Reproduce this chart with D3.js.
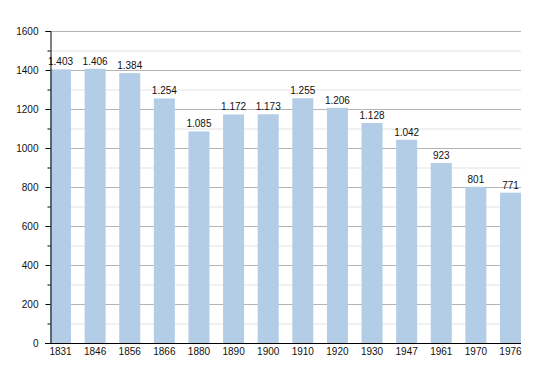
<!DOCTYPE html>
<html lang="en">
  <head>
    <meta charset="UTF-8" />
    <title>Population</title>
    <script src="https://d3js.org/d3.v7.min.js"></script>
    <style>
      * {
        margin: 0;
        padding: 0;
      }
      body {
        background: #fff;
      }
      text {
        font-family: "Liberation Sans", Arial, sans-serif;
      }
    </style>
  </head>
  <body>
    <div id="chart"></div>
    <script>
      const years = ["1831", "1846", "1856", "1866", "1880", "1890", "1900", "1910", "1920", "1930", "1947", "1961", "1970", "1976"];
      const population = [1403, 1406, 1384, 1254, 1085, 1172, 1173, 1255, 1206, 1128, 1042, 923, 801, 771];
      const majorTicks = [0, 200, 400, 600, 800, 1000, 1200, 1400, 1600];
      const minorTicks = [100, 300, 500, 700, 900, 1100, 1300, 1500];

      const width = 550;
      const height = 373;
      const M = { left: 50, right: 521, top: 31, bottom: 343 };

      const svg = d3.select("#chart").append("svg")
        .attr("width", width)
        .attr("height", height);

      const y = d3.scaleLinear().domain([0, 1600]).range([M.bottom, M.top]);
      const x = d3.scaleBand().domain(years).range([M.left, M.right])
        .paddingInner(0.393).paddingOuter(0).align(0);

      // grid lines
      svg.append("g").selectAll("line.minor")
        .data(minorTicks)
        .join("line")
        .attr("class", "minor")
        .attr("x1", M.left).attr("x2", M.right)
        .attr("y1", d => y(d) + 0.5).attr("y2", d => y(d) + 0.5)
        .attr("stroke", "#e3e3e3");

      svg.append("g").selectAll("line.major")
        .data(majorTicks.slice(1))
        .join("line")
        .attr("class", "major")
        .attr("x1", M.left).attr("x2", M.right)
        .attr("y1", d => y(d) + 0.5).attr("y2", d => y(d) + 0.5)
        .attr("stroke", "#b4b4b4");

      // bars
      svg.append("g").selectAll("rect")
        .data(population)
        .join("rect")
        .attr("x", (d, i) => x(years[i]))
        .attr("width", x.bandwidth())
        .attr("y", d => y(d))
        .attr("height", d => y(0) - y(d))
        .attr("fill", "#b3cde6");

      // value labels
      const fmt = d3.formatLocale({ decimal: ",", thousands: ".", grouping: [3], currency: ["", ""] }).format(",");
      svg.append("g").selectAll("text")
        .data(population)
        .join("text")
        .attr("x", (d, i) => x(years[i]) + x.bandwidth() / 2)
        .attr("y", d => y(d) - 4)
        .attr("text-anchor", "middle")
        .attr("font-size", 10)
        .attr("fill", "#111")
        .text(d => fmt(d));

      // y axis
      const yAxis = svg.append("g")
        .attr("transform", `translate(${M.left + 0.5},0)`)
        .call(d3.axisLeft(y).tickValues(majorTicks).tickFormat(d3.format("d")).tickSize(5).tickPadding(7));
      yAxis.select(".domain").attr("stroke", "#000");
      yAxis.selectAll(".tick line").attr("stroke", "#000");
      yAxis.selectAll("text").attr("font-size", 10).attr("fill", "#111")
        .attr("font-family", "Liberation Sans, Arial, sans-serif");
      yAxis.selectAll("line.minorTick")
        .data(minorTicks)
        .join("line")
        .attr("class", "minorTick")
        .attr("x1", -3).attr("x2", 0)
        .attr("y1", d => y(d) + 0.5).attr("y2", d => y(d) + 0.5)
        .attr("stroke", "#000");

      // x axis
      const xAxis = svg.append("g")
        .attr("transform", `translate(0,${M.bottom + 0.5})`)
        .call(d3.axisBottom(x).tickSize(0).tickPadding(4));
      xAxis.select(".domain").attr("d", `M${M.left - 5},0H${M.right}`).attr("stroke", "#000");
      xAxis.selectAll("text").attr("font-size", 10).attr("fill", "#111")
        .attr("font-family", "Liberation Sans, Arial, sans-serif");
    </script>
  </body>
</html>
